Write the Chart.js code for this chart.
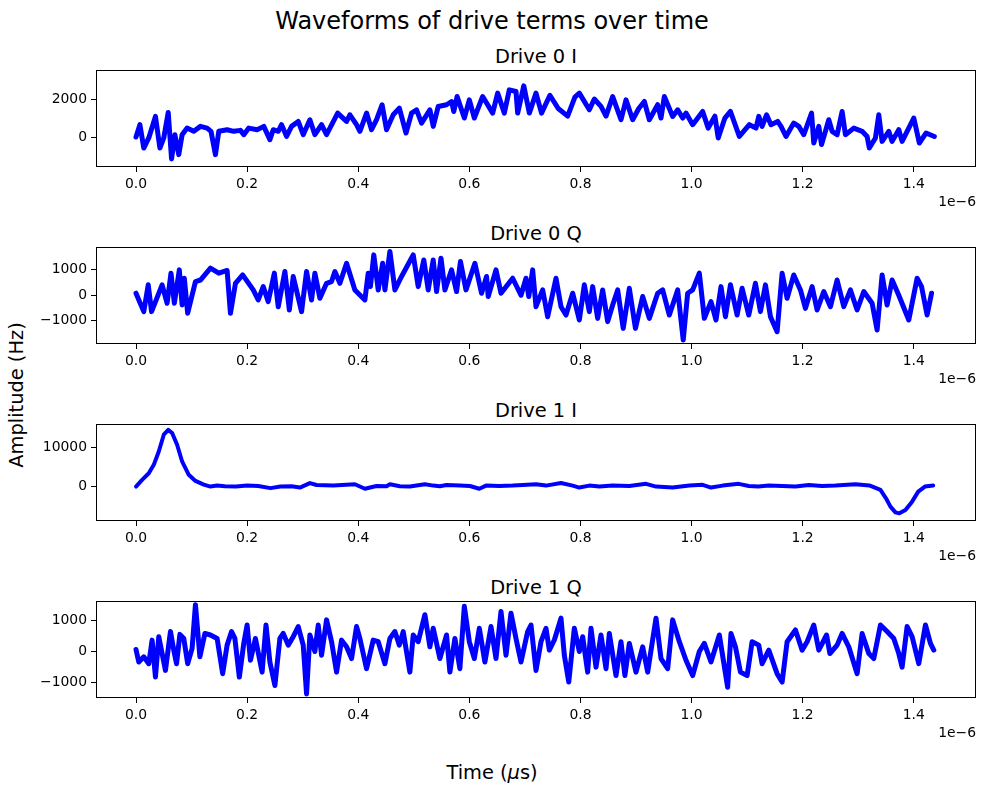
<!DOCTYPE html>
<html>
<head>
<meta charset="utf-8">
<script src="https://cdn.jsdelivr.net/npm/chart.js@4.4.0/dist/chart.umd.min.js"></script>
<style>
  html, body { margin: 0; padding: 0; background: #fff; }
  #fig { position: relative; width: 985px; height: 795px; overflow: hidden; font-family: 'DejaVu Sans', sans-serif; color: #000; }
  #fig canvas { position: absolute; left: 0; }
  .txt { position: absolute; transform: translate(-50%, -50%); white-space: nowrap; line-height: 1; }
</style>
</head>
<body>
<div id="fig">
  <div class="txt" style="left:492px;top:21px;font-size:24px;">Waveforms of drive terms over time</div>
  <div class="txt" style="left:17px;top:395px;font-size:19.4px;transform:translate(-50%,-50%) rotate(-90deg);">Amplitude (Hz)</div>
  <div class="txt" style="left:492px;top:773px;font-size:19.4px;">Time (<i>μ</i>s)</div>
</div>
<script>
// time axis (units of 1e-6 s)
const timeTicks = [0.0, 0.2, 0.4, 0.6, 0.8, 1.0, 1.2, 1.4];

// Drive 0 I
const drive0I_t = [
  0.000, 0.007, 0.014, 0.023, 0.035, 0.043, 0.050, 0.058, 0.064, 0.070,
  0.077, 0.083, 0.092, 0.104, 0.116, 0.128, 0.135, 0.143, 0.149, 0.164,
  0.176, 0.188, 0.194, 0.203, 0.218, 0.230, 0.241, 0.247, 0.256, 0.262,
  0.271, 0.280, 0.292, 0.301, 0.313, 0.322, 0.334, 0.343, 0.363, 0.379,
  0.385, 0.397, 0.403, 0.415, 0.424, 0.433, 0.443, 0.451, 0.463, 0.474,
  0.486, 0.496, 0.505, 0.514, 0.529, 0.535, 0.544, 0.559, 0.568, 0.572,
  0.578, 0.591, 0.600, 0.609, 0.624, 0.642, 0.651, 0.663, 0.672, 0.684,
  0.687, 0.698, 0.708, 0.720, 0.730, 0.745, 0.760, 0.777, 0.790, 0.798,
  0.816, 0.825, 0.837, 0.846, 0.858, 0.873, 0.882, 0.894, 0.905, 0.915,
  0.924, 0.939, 0.945, 0.951, 0.966, 0.975, 0.984, 0.990, 1.002, 1.020,
  1.030, 1.042, 1.048, 1.060, 1.070, 1.086, 1.104, 1.116, 1.121, 1.127,
  1.135, 1.143, 1.155, 1.161, 1.170, 1.184, 1.193, 1.202, 1.216, 1.220,
  1.229, 1.234, 1.247, 1.253, 1.262, 1.271, 1.277, 1.292, 1.307, 1.316,
  1.320, 1.331, 1.337, 1.343, 1.355, 1.361, 1.373, 1.379, 1.400, 1.410,
  1.422, 1.437
];
const drive0I_v = [
  0, 650, -580, -50, 1085, -580, -50, 1295, -1155, 120,
  -930, 120, 470, 300, 560, 470, 300, -930, 300, 385,
  300, 350, 120, 470, 385, 560, -140, 385, 300, 650,
  35, 560, 820, 120, 910, 120, 650, 120, 1260, 820,
  1170, 650, 300, 1260, 385, 910, 1700, 385, 1170, 1520,
  210, 1260, 1430, 735, 1430, 560, 1610, 1700, 1870, 1345,
  2135, 1000, 1960, 1000, 2135, 1260, 2310, 1260, 2485, 2400,
  1260, 2695, 1260, 2310, 1260, 2200, 1500, 1100, 2100, 2310,
  1435, 2000, 1610, 1100, 2130, 910, 1960, 910, 1500, 1870,
  910, 1700, 1000, 2130, 1085, 1435, 1000, 1260, 650, 1345,
  470, 1100, -50, 1000, 1345, 30, 650, 470, 1085, 560,
  1170, 650, 820, 560, 30, 735, 560, 120, 1255, -315,
  560, -400, 910, 300, 120, 1345, 120, 470, 300, 30,
  -580, -50, 1170, -230, 300, -230, 385, -230, 1000, -315,
  210, 30
];
const drive0I_yTicks = [0, 2000];

// Drive 0 Q
const drive0Q_t = [
  0.000, 0.014, 0.022, 0.028, 0.047, 0.056, 0.063, 0.069, 0.078, 0.083,
  0.087, 0.093, 0.107, 0.116, 0.134, 0.149, 0.164, 0.170, 0.179, 0.192,
  0.211, 0.220, 0.229, 0.238, 0.249, 0.256, 0.268, 0.276, 0.283, 0.298,
  0.307, 0.316, 0.322, 0.331, 0.343, 0.352, 0.358, 0.367, 0.379, 0.394,
  0.412, 0.418, 0.422, 0.428, 0.436, 0.444, 0.448, 0.457, 0.466, 0.478,
  0.499, 0.508, 0.518, 0.526, 0.535, 0.541, 0.549, 0.556, 0.568, 0.577,
  0.584, 0.594, 0.610, 0.622, 0.631, 0.634, 0.648, 0.657, 0.678, 0.693,
  0.702, 0.707, 0.714, 0.720, 0.732, 0.741, 0.756, 0.765, 0.774, 0.786,
  0.798, 0.807, 0.816, 0.822, 0.831, 0.840, 0.849, 0.858, 0.867, 0.877,
  0.888, 0.899, 0.912, 0.924, 0.939, 0.948, 0.960, 0.975, 0.985, 0.993,
  1.002, 1.014, 1.023, 1.035, 1.044, 1.053, 1.061, 1.070, 1.082, 1.091,
  1.103, 1.115, 1.124, 1.133, 1.142, 1.154, 1.163, 1.172, 1.184, 1.196,
  1.205, 1.217, 1.226, 1.238, 1.250, 1.262, 1.274, 1.286, 1.298, 1.310,
  1.325, 1.334, 1.343, 1.352, 1.361, 1.373, 1.391, 1.406, 1.414, 1.424,
  1.432
];
const drive0Q_v = [
  80, -645, 410, -645, 410, -315, 870, -315, 1000, -380,
  670, -710, 540, 600, 1065, 870, 975, -710, 470, 800,
  210, -185, 340, -250, 870, -450, 935, -580, 740, -645,
  935, -185, 870, -120, 470, 540, 935, 470, 1260, 210,
  -185, 870, 340, 1590, 210, 1260, 210, 1725, 210, 740,
  1590, 340, 1390, 210, 1390, 145, 1460, 210, 1000, 145,
  1330, 210, 1260, 80, 740, -50, 1000, 80, 670, 0,
  670, -50, 1000, -450, 210, -845, 670, -450, -780, 80,
  -975, 410, -645, 340, -910, 210, -1040, -385, 210, -1305,
  275, -1305, -50, -910, 80, 210, -780, 210, -1765, 80,
  210, 870, -910, -250, -975, 340, -845, 410, -780, 275,
  -780, 470, -645, 410, -845, -1435, 870, -120, 800, 210,
  -515, 340, -580, 145, -450, 600, -450, 210, -580, 145,
  -315, -1370, 800, -385, 600, 0, -975, 670, 340, -780,
  80
];
const drive0Q_yTicks = [-1000, 0, 1000];

// Drive 1 I
const drive1I_t = [
  0.000, 0.011, 0.023, 0.032, 0.041, 0.050, 0.058, 0.065, 0.074, 0.083,
  0.095, 0.107, 0.122, 0.134, 0.146, 0.160, 0.180, 0.200, 0.220, 0.242,
  0.260, 0.280, 0.295, 0.313, 0.325, 0.355, 0.394, 0.412, 0.433, 0.451,
  0.457, 0.475, 0.493, 0.520, 0.535, 0.547, 0.559, 0.583, 0.601, 0.618,
  0.630, 0.654, 0.678, 0.696, 0.720, 0.738, 0.765, 0.786, 0.798, 0.816,
  0.834, 0.858, 0.888, 0.918, 0.936, 0.966, 0.996, 1.020, 1.035, 1.056,
  1.085, 1.103, 1.120, 1.139, 1.163, 1.187, 1.211, 1.235, 1.259, 1.295,
  1.320, 1.340, 1.350, 1.358, 1.367, 1.374, 1.385, 1.397, 1.408, 1.420,
  1.435
];
const drive1I_v = [
  0, 1700, 3400, 5560, 8980, 13260, 14500, 13700, 10700, 6420,
  3000, 1450, 500, 0, 250, 100, 0, 250, 150, -400,
  0, 100, -250, 900, 400, 250, 600, -550, 150, 100,
  600, 100, 0, 600, 250, 100, 400, 250, 150, -550,
  250, 150, 250, 400, 600, 250, 900, 250, -250, 250,
  0, 250, 150, 700, 0, -250, 250, 450, -250, 250,
  700, 150, 0, 250, 150, 0, 400, 150, 250, 600,
  300, -850, -3000, -5130, -6580, -6840, -5990, -3850, -1280, 0,
  300
];
const drive1I_yTicks = [0, 10000];

// Drive 1 Q
const drive1Q_t = [
  0.000, 0.005, 0.014, 0.023, 0.029, 0.035, 0.041, 0.047, 0.053, 0.062,
  0.068, 0.073, 0.079, 0.086, 0.093, 0.101, 0.107, 0.115, 0.124, 0.134,
  0.146, 0.156, 0.164, 0.172, 0.178, 0.186, 0.194, 0.200, 0.206, 0.215,
  0.227, 0.234, 0.241, 0.250, 0.259, 0.265, 0.274, 0.283, 0.292, 0.301,
  0.307, 0.313, 0.322, 0.328, 0.334, 0.343, 0.352, 0.361, 0.370, 0.379,
  0.388, 0.397, 0.403, 0.415, 0.427, 0.436, 0.448, 0.457, 0.466, 0.474,
  0.481, 0.493, 0.499, 0.508, 0.520, 0.529, 0.535, 0.547, 0.559, 0.565,
  0.574, 0.583, 0.591, 0.600, 0.609, 0.618, 0.628, 0.639, 0.648, 0.657,
  0.666, 0.675, 0.684, 0.693, 0.705, 0.711, 0.720, 0.729, 0.738, 0.744,
  0.753, 0.765, 0.771, 0.779, 0.789, 0.798, 0.804, 0.813, 0.819, 0.828,
  0.837, 0.846, 0.852, 0.864, 0.873, 0.880, 0.888, 0.900, 0.912, 0.921,
  0.936, 0.945, 0.957, 0.966, 0.978, 0.990, 1.002, 1.014, 1.023, 1.035,
  1.050, 1.065, 1.071, 1.079, 1.088, 1.100, 1.109, 1.121, 1.127, 1.139,
  1.154, 1.163, 1.172, 1.187, 1.199, 1.208, 1.220, 1.229, 1.243, 1.249,
  1.262, 1.271, 1.283, 1.298, 1.307, 1.319, 1.328, 1.340, 1.352, 1.364,
  1.373, 1.379, 1.388, 1.397, 1.409, 1.421, 1.430, 1.436
];
const drive1Q_v = [
  65, -335, -170, -390, 365, -820, 475, -65, -605, 640,
  45, -390, 550, 420, -390, 100, 1500, -170, 580, 530,
  420, -710, 205, 640, 420, -820, 260, 850, -280, 420,
  -660, 850, -335, -1090, 420, 580, 205, 475, 800, 205,
  -1360, 530, 0, 850, -120, 1015, 315, -660, 365, 150,
  -225, 800, 420, -550, 365, 315, -390, 420, 640, 205,
  640, -660, 530, 315, 1180, 150, 745, -225, 530, -660,
  420, -550, 1450, 315, -225, 745, -335, 800, -225, 1285,
  -120, 1230, 420, -335, 640, 850, -605, 315, 745, 45,
  370, 1070, -120, -980, 745, 0, 475, -660, 745, -500,
  530, -550, 580, -770, 315, -770, 260, -660, 150, -660,
  1070, -225, -550, 1015, 315, -280, -770, 0, 260, -335,
  530, -1145, 580, 150, -660, -770, 315, 205, -390, 45,
  -710, -980, 315, 690, 45, 315, 850, 45, 530, -65,
  205, 580, 150, -710, 580, -65, -225, 850, 640, 420,
  -65, -500, 800, 475, -390, 850, 260, 45
];
const drive1Q_yTicks = [-1000, 0, 1000];

Chart.defaults.font.family = "'DejaVu Sans', sans-serif";
Chart.defaults.color = '#000';

const X_MIN = -0.072;
const X_MAX = 1.512;
const tickFont = { size: 13.9, family: "'DejaVu Sans', sans-serif" };

// full frame round the axes, like matplotlib spines
const boxPlugin = {
  id: 'box',
  afterDraw(chart) {
    const { ctx, chartArea: { left, top, right, bottom } } = chart;
    ctx.save();
    ctx.strokeStyle = '#000';
    ctx.lineWidth = 1;
    ctx.strokeRect(Math.round(left) + 0.5, Math.round(top) + 0.5, Math.round(right - left) - 1, Math.round(bottom - top) - 1);
    ctx.restore();
  },
};

// the "1e-6" offset text under the x axis
const offsetPlugin = {
  id: 'offsetText',
  afterDraw(chart) {
    const { ctx, chartArea: { right, bottom } } = chart;
    ctx.save();
    ctx.font = "13.9px 'DejaVu Sans', sans-serif";
    ctx.fillStyle = '#000';
    ctx.textAlign = 'right';
    ctx.textBaseline = 'middle';
    ctx.fillText('1e\u22126', right, bottom + 35);
    ctx.restore();
  },
};

const panels = [
  { title: 'Drive 0 I', t: drive0I_t, v: drive0I_v, yTicks: drive0I_yTicks, yMin: -1580, yMax: 3530, top: 70, lw: 5 },
  { title: 'Drive 0 Q', t: drive0Q_t, v: drive0Q_v, yTicks: drive0Q_yTicks, yMin: -1920, yMax: 1900, top: 247, lw: 5 },
  { title: 'Drive 1 I', t: drive1I_t, v: drive1I_v, yTicks: drive1I_yTicks, yMin: -8800, yMax: 16000, top: 424, lw: 4 },
  { title: 'Drive 1 Q', t: drive1Q_t, v: drive1Q_v, yTicks: drive1Q_yTicks, yMin: -1490, yMax: 1620, top: 601, lw: 5 },
];

const fig = document.getElementById('fig');
const AX_H = 97;
const PAD_TOP = 5;
const X_AXIS_H = 45;

panels.forEach((p) => {
  const title = document.createElement('div');
  title.className = 'txt';
  title.style.left = '536px';
  title.style.top = (p.top - 13) + 'px';
  title.style.fontSize = '19.4px';
  title.textContent = p.title;
  fig.appendChild(title);

  const canvas = document.createElement('canvas');
  canvas.width = 985;
  canvas.height = PAD_TOP + AX_H + X_AXIS_H;
  canvas.style.top = (p.top - PAD_TOP) + 'px';
  fig.appendChild(canvas);

  new Chart(canvas, {
    type: 'line',
    data: {
      datasets: [
        {
          data: p.t.map((x, i) => ({ x: x, y: p.v[i] })),
          borderColor: '#0000ff',
          borderWidth: p.lw,
          pointRadius: 0,
          tension: 0,
          borderJoinStyle: 'round',
          borderCapStyle: 'round',
        },
      ],
    },
    options: {
      responsive: false,
      animation: false,
      devicePixelRatio: 1,
      events: [],
      layout: { padding: { top: PAD_TOP, right: 9, left: 0, bottom: 0 } },
      plugins: {
        legend: { display: false },
        title: { display: false },
        tooltip: { enabled: false },
      },
      scales: {
        x: {
          type: 'linear',
          min: X_MIN,
          max: X_MAX,
          afterFit: (s) => {
            s.height = X_AXIS_H;
            s.paddingLeft = 0;
            s.paddingRight = 0;
          },
          afterBuildTicks: (s) => { s.ticks = timeTicks.map((v) => ({ value: v })); },
          ticks: {
            callback: (v) => v.toFixed(1),
            font: tickFont,
            color: '#000',
            padding: 4,
            maxRotation: 0,
            autoSkip: false,
          },
          grid: { display: true, drawOnChartArea: false, tickLength: 5, tickColor: '#000' },
          border: { display: false },
        },
        y: {
          min: p.yMin,
          max: p.yMax,
          afterFit: (s) => {
            s.width = 96;
            s.paddingTop = 0;
            s.paddingBottom = 0;
          },
          afterBuildTicks: (s) => { s.ticks = p.yTicks.map((v) => ({ value: v })); },
          ticks: {
            callback: (v) => String(v).replace('-', '\u2212'),
            font: tickFont,
            color: '#000',
            padding: 4,
            autoSkip: false,
          },
          grid: { display: true, drawOnChartArea: false, tickLength: 5, tickColor: '#000' },
          border: { display: false },
        },
      },
    },
    plugins: [boxPlugin, offsetPlugin],
  });
});
</script>
</body>
</html>
